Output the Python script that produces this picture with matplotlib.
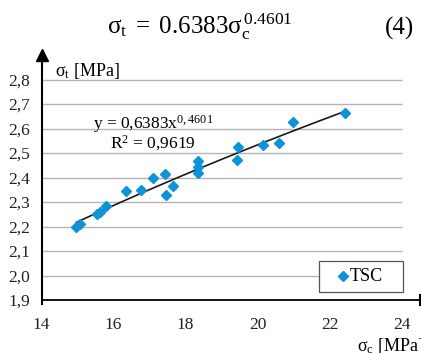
''' TSC: splitting vs compressive strength '''
import matplotlib
matplotlib.use('Agg')
import matplotlib.pyplot as plt
from matplotlib.patches import Rectangle
import numpy as np

plt.rcParams['font.family'] = ['Liberation Serif', 'DejaVu Serif']
plt.rcParams['mathtext.fontset'] = 'custom'
plt.rcParams['mathtext.rm'] = 'Liberation Serif'
plt.rcParams['mathtext.it'] = 'Liberation Serif'

sigma_c = [14.97, 15.08, 15.53, 15.63, 15.80, 16.34, 16.77, 17.11, 17.44, 17.45,
           17.64, 18.36, 18.36, 18.36, 19.42, 19.47, 20.16, 20.60, 20.99, 22.42]
sigma_t = [2.200, 2.210, 2.251, 2.260, 2.284, 2.343, 2.348, 2.399, 2.413, 2.329,
           2.365, 2.469, 2.444, 2.417, 2.471, 2.523, 2.531, 2.542, 2.627, 2.662]
fit_a = 0.6383
fit_b = 0.4601
r2 = 0.9619
series_name = 'TSC'
x_ticks = [14, 16, 18, 20, 22, 24]
y_ticks = [1.9, 2.0, 2.1, 2.2, 2.3, 2.4, 2.5, 2.6, 2.7, 2.8]

W, H = 421, 353
BLUE = '#0e93d8'
fig = plt.figure(figsize=(W / 100, H / 100), dpi=100)
ax = fig.add_axes([41.5 / W, 53 / H, 378 / W, 245 / H])
ax.set_xlim(14, 24.5)
ax.set_ylim(1.9, 2.9)
for s in ax.spines.values():
    s.set_visible(False)

# grid
ax.hlines(y_ticks[1:], 14, 24, color='#b4b4b4', lw=1.0, zorder=1)

# axes with arrows
ax.plot([14, 14], [1.885, 2.9], color='black', lw=1.5, clip_on=False, zorder=3)
ax.plot(14, 2.9, marker='^', ms=9, color='black', clip_on=False, zorder=3)
ax.plot([14, 24.5], [1.9, 1.9], color='black', lw=1.3, clip_on=False, zorder=3)
ax.plot(24.5, 1.9, marker='|', ms=9, mew=1.5, color='black', clip_on=False, zorder=3)

ax.set_xticks(x_ticks)
ax.set_yticks(y_ticks)
ax.set_yticklabels([f'{v:.1f}'.replace('.', ',') for v in y_ticks])
ax.tick_params(axis='x', length=0, pad=12, labelsize=12.5, colors='#222222')
ax.tick_params(axis='y', length=0, pad=8, labelsize=12.5, colors='#222222')

# data and trend line
ax.plot(sigma_c, sigma_t, 'D', ms=5.6, color=BLUE, mec=BLUE, zorder=4)
xf = np.linspace(min(sigma_c), max(sigma_c), 100)
ax.plot(xf, fit_a * xf ** fit_b, color='#1a1a1a', lw=1.2, zorder=3)

ax.text(17.1, 2.618, r'y = 0,6383x$^{\mathregular{0,4601}}$', ha='center',
        va='center', fontsize=12.5)
ax.text(17.1, 2.54, r'R$^{\mathregular{2}}$ = ' + f'{r2}'.replace('.', ','),
        ha='center', va='center', fontsize=12.5)

# legend box (excel style, marker well inside the frame)
ax.add_patch(Rectangle((21.71, 1.933), 2.33, 0.126, fill=True, fc='white',
                       ec='#555555', lw=0.9, zorder=5))
ax.plot(22.37, 1.996, 'D', ms=5.6, color=BLUE, mec=BLUE, zorder=6)
ax.text(22.55, 1.996, series_name, fontsize=13, va='center', ha='left', zorder=6)

# labels
fig.text(55 / W, 1 - 71 / H, r'$\mathregular{\sigma_t}$ [MPa]', fontsize=13,
         va='center', ha='left')
fig.text(357 / W, 1 - 346 / H, r'$\mathregular{\sigma_c}$ [MPa]', fontsize=13,
         va='center', ha='left')
fig.text(200 / W, 1 - 27 / H,
         r'$\mathregular{\sigma_t\;=\;0.6383\sigma_c^{\/0.4601}}$',
         fontsize=18, ha='center', va='center')
fig.text(400 / W, 1 - 28 / H, '(4)', fontsize=18, ha='center', va='center')

fig.savefig('out.png', dpi=100)
